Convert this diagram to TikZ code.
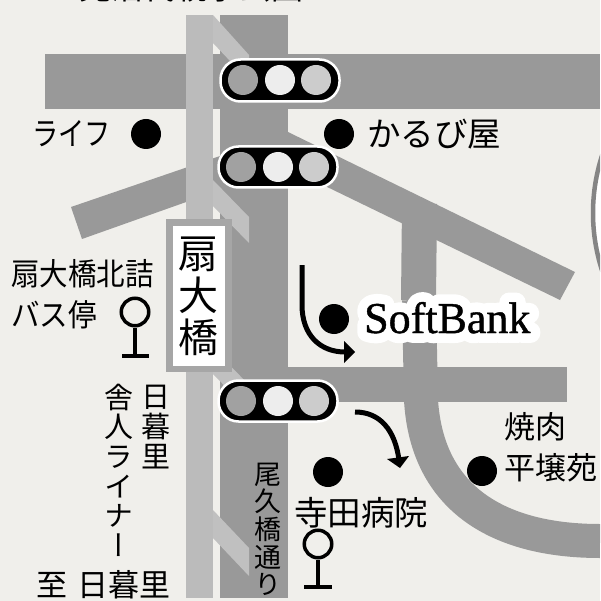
\documentclass[tikz,border=0pt]{standalone}
\usepackage{fontspec}
\usepackage{graphicx}
\setmainfont{Liberation Serif}
\newfontfamily\jp{Noto Sans CJK JP}
\newfontfamily\jpv[RawFeature={+vert}]{Noto Sans CJK JP}
\newfontfamily\halofont[FakeBold=45]{Liberation Serif}
\newfontfamily\sbfont[FakeBold=1]{Liberation Serif}
\definecolor{paper}{HTML}{F0EFEB}
\definecolor{road}{HTML}{999999}
\definecolor{rail}{HTML}{BBBBBB}
\definecolor{railb}{HTML}{C0C0C0}
\definecolor{sta}{HTML}{A6A6A6}
\newcommand{\jpfs}[2]{\jp\fontsize{#1}{#2}\selectfont}
\newcommand{\jpvfs}[2]{\jpv\fontsize{#1}{#2}\selectfont}
\tikzset{
  roadfill/.style={fill=road,draw=none},
  roadline/.style={draw=road,line width=34pt},
  railfill/.style={fill=rail,draw=none},
  branchfill/.style={fill=railb,draw=none},
  pill/.style={rounded corners=20pt,fill=black,draw=white,line width=2.5pt},
  lampa/.style={circle,fill=#1,draw=none,minimum size=30pt,inner sep=0pt},
  shop/.style={circle,fill=black,draw=none,minimum size=30pt,inner sep=0pt},
  stopring/.style={circle,draw=black,line width=3.5pt,minimum size=27.5pt,inner sep=0pt},
  stopline/.style={draw=black,line width=3.5pt},
  jplabel/.style={inner sep=0pt,outer sep=0pt,text=black},
  vstack/.style={inner sep=0pt,outer sep=0pt,align=center,text=black},
  arrowline/.style={draw=black,line width=5pt},
}
\begin{document}
\begin{tikzpicture}[x=1pt,y=-1pt]
\useasboundingbox (0,0) rectangle (600,601);
\clip (0,0) rectangle (600,601);
\fill[paper] (0,0) rectangle (600,601);
% far circle
\draw[fill=white,draw=black!48,line width=4.5pt] (779,213) circle (186);
% roads
\fill[roadfill] (45,54) rectangle (600,109);
\fill[roadfill] (220,15) rectangle (288,598);
\fill[roadfill] (71,207) -- (220,156) -- (220,190) -- (82,239) -- cycle;
\fill[roadfill] (288,132) -- (575,272) -- (560,300) -- (288,168) -- cycle;
\fill[roadfill] (288,367) rectangle (567,402);
\fill[roadfill] (402,204) -- (437,204) -- (436,300) -- (401,300) -- cycle;
\draw[roadline] (419,300) -- (421,400) .. controls (427,500) and (500,541) .. (600,541);
% rail
\fill[railfill] (186,15) rectangle (213,598);
\fill[branchfill] (213,15) -- (249,55) -- (249,81) -- (213,43) -- cycle;
\fill[branchfill] (213,180) -- (249,217) -- (249,243) -- (213,206) -- cycle;
\fill[branchfill] (213,348) -- (249,385) -- (249,411) -- (213,374) -- cycle;
\fill[branchfill] (213,510) -- (249,548) -- (249,576) -- (213,538) -- cycle;
% station
\fill[sta] (166,219) rectangle (232,372);
\fill[white] (173,226) rectangle (225,366);
\node[vstack,font=\jpfs{40}{42}] (station) at (198,296) {扇\\大\\橋};
% signals
\draw[pill] (220.5,59.5) rectangle (339.5,101.5);
\node[lampa=black!37] (s1a) at (243,80) {};
\node[lampa=black!7] (s1b) at (280,80) {};
\node[lampa=black!20] (s1c) at (316,80) {};
\draw[pill] (218.5,146.5) rectangle (337.5,187.5);
\node[lampa=black!37] (s2a) at (241,167) {};
\node[lampa=black!7] (s2b) at (278,167) {};
\node[lampa=black!20] (s2c) at (314,167) {};
\draw[pill] (218.5,380.5) rectangle (337.5,421.5);
\node[lampa=black!37] (s3a) at (241,401) {};
\node[lampa=black!7] (s3b) at (278,401) {};
\node[lampa=black!20] (s3c) at (314,401) {};
% shops
\node[shop] (d1) at (146,134) {};
\node[shop] (d2) at (339,134) {};
\node[shop] (d3) at (334,319) {};
\node[shop] (d4) at (328,472) {};
\node[shop] (d5) at (482,471) {};
% labels
\node[jplabel,font=\jpfs{32}{32},anchor=west] (life) at (32,134) {\scalebox{.82}[1]{ライフ}};
\node[jplabel,font=\jpfs{33.5}{33.5},anchor=west] (karubi) at (367,134) {かるび屋};
\node[jplabel,font=\jpfs{31}{31},anchor=west] (kita) at (11,274) {\scalebox{.92}[1]{扇大橋北詰}};
\node[jplabel,font=\jpfs{31}{31},anchor=west] (bus) at (11,315) {\scalebox{.92}[1]{バス停}};
\node[jplabel,font=\jpfs{33.5}{33.5},anchor=west] (tera) at (294,513) {寺田病院};
\node[jplabel,font=\jpfs{31}{31},anchor=west] (yaki) at (504,427) {焼肉};
\node[jplabel,font=\jpfs{31}{31},anchor=west] (hei) at (504,468) {平壌苑};
\node[jplabel,font=\jpfs{31}{31},anchor=west] (to1) at (36,585) {至};
\node[jplabel,font=\jpfs{31}{31},anchor=west] (nip) at (77,585) {日暮里};
\node[jplabel,font=\jpfs{32}{32},anchor=west] (north) at (79,-13) {見沼代親水公園};
\node[vstack,font=\jpfs{29}{30},anchor=north] (v1) at (156,385) {日\\暮\\里};
\node[vstack,font=\jpvfs{29}{29.6},anchor=north] (v2) at (119,384) {舎\\人\\ラ\\イ\\ナ\\ー};
\node[vstack,font=\jpvfs{27}{27.6},anchor=north] (v3) at (268,463) {尾\\久\\橋\\通\\り};
% SoftBank with halo
\begin{scope}[line join=round]
\node[inner sep=0pt,anchor=base west,text=white,font=\halofont\fontsize{44}{44}\selectfont] (sbhalo) at (364,333) {SoftBank};
\end{scope}
\node[inner sep=0pt,anchor=base west,text=black,font=\sbfont\fontsize{44}{44}\selectfont] (sb) at (364,333) {SoftBank};
% bus stops
\node[stopring] (b1) at (135,312) {};
\coordinate (b1f) at (135,356);
\coordinate (b1l) at (122,356);
\coordinate (b1r) at (149,356);
\draw[stopline] (b1) -- (b1f);
\draw[stopline] (b1l) -- (b1r);
\node[stopring] (b2) at (318,544) {};
\coordinate (b2f) at (318,587);
\coordinate (b2l) at (304,587);
\coordinate (b2r) at (332,587);
\draw[stopline] (b2) -- (b2f);
\draw[stopline] (b2l) -- (b2r);
% arrows
\coordinate (a1s) at (302,265);
\coordinate (a1m) at (302,305);
\coordinate (a1e) at (345,352);
\draw[arrowline] (a1s) -- (a1m) .. controls (302,335) and (320,352) .. (a1e);
\fill[black] (344,341) -- (355,352) -- (344,363) -- cycle;
\coordinate (a2s) at (355,412);
\coordinate (a2e) at (399,460);
\draw[arrowline] (a2s) .. controls (380,412) and (395,430) .. (a2e);
\fill[black] (387,459) -- (400,468) -- (409,456) -- cycle;
\end{tikzpicture}
\end{document}
